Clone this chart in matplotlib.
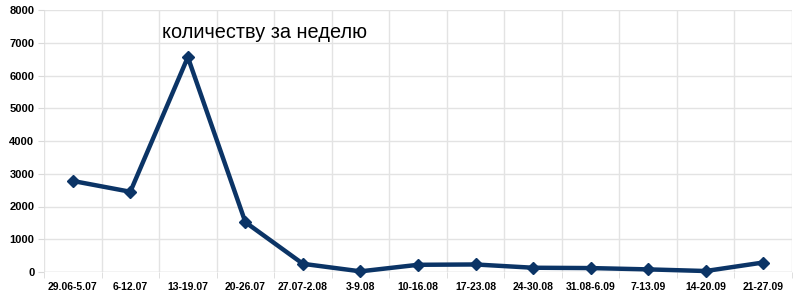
import matplotlib
matplotlib.use("Agg")
import matplotlib.pyplot as plt
import numpy as np

categories = ["29.06-5.07", "6-12.07", "13-19.07", "20-26.07", "27.07-2.08", "3-9.08",
              "10-16.08", "17-23.08", "24-30.08", "31.08-6.09", "7-13.09", "14-20.09", "21-27.09"]
values = [2780, 2450, 6560, 1520, 250, 20, 220, 230, 130, 120, 80, 30, 290]
yticks = [0, 1000, 2000, 3000, 4000, 5000, 6000, 7000, 8000]
title = "количеству за неделю"

plt.rcParams['font.family'] = ['Liberation Sans', 'DejaVu Sans']

W, H = 797, 302
fig = plt.figure(figsize=(W/100, H/100), dpi=100)
ax = fig.add_axes([44/W, 1-272/H, (792-44)/W, (272-10)/H])

x = np.arange(len(categories))
ax.plot(x, values, color='#0b3466', lw=3.2, marker='D', ms=6.5, zorder=3, clip_on=False)

ax.set_xlim(-0.5, len(categories)-0.5)
ax.set_ylim(0, 8000)
ax.set_yticks(yticks)
ax.set_yticklabels([str(v) for v in yticks], fontsize=8, fontweight='bold')
ax.set_xticks(x)
ax.set_xticklabels(categories, fontsize=7.5, fontweight='bold')
ax.set_xticks(np.arange(-0.5, len(categories)), minor=True)
ax.tick_params(axis='x', which='major', length=0, pad=7)
ax.tick_params(axis='x', which='minor', length=4, color='#d9d9d9')
ax.tick_params(axis='y', length=4, color='#d9d9d9', pad=3)
ax.grid(True, which='major', axis='y', color='#e3e3e3', lw=1)
ax.grid(True, which='minor', axis='x', color='#e3e3e3', lw=1)
for s in ax.spines.values():
    s.set_visible(False)
ax.axhline(0, color='#d9d9d9', lw=1, zorder=1)

ax.text(162/W, 1-33/H, title, transform=fig.transFigure, fontsize=14.3,
        va='center', ha='left', color='black')

fig.savefig("out.png", dpi=100)
